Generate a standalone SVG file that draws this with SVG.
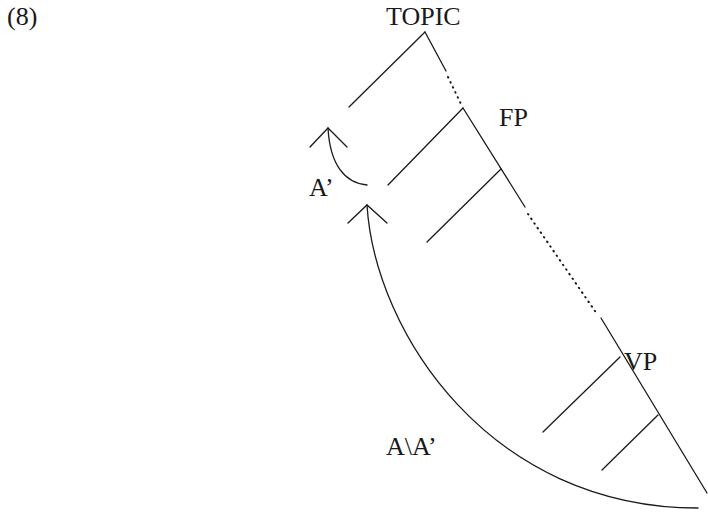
<svg xmlns="http://www.w3.org/2000/svg" width="708" height="513" viewBox="0 0 708 513">
<style>
.t{font-family:"Liberation Serif","Times New Roman",serif;font-size:26px;fill:#1a1a1a}
.l{stroke:#1a1a1a;stroke-width:1.3;fill:none;stroke-linecap:round}
.d{stroke:#1a1a1a;stroke-width:2;fill:none;stroke-dasharray:0.6 5;stroke-linecap:round}
</style>
<rect width="708" height="513" fill="#fff"/>
<text class="t" x="7" y="25">(8)</text>
<g id="topic"><text class="t" x="386" y="25">TOPIC</text></g>
<g id="fp"><text class="t" x="499" y="126">FP</text></g>
<g id="vp"><text class="t" x="624" y="370">VP</text></g>
<g id="a1"><text class="t" x="309" y="196">A’</text></g>
<g id="a2"><text class="t" x="386" y="455">A\A’</text></g>
<g id="connectors">
<line class="l" x1="425" y1="32" x2="349" y2="107"/>
<line class="l" x1="425" y1="32" x2="446" y2="71"/>
<line class="d" x1="448" y1="77" x2="461" y2="104"/>
<line class="l" x1="463" y1="108" x2="388" y2="185"/>
<line class="l" x1="463" y1="108" x2="525" y2="207"/>
<line class="l" x1="501" y1="169" x2="427" y2="242"/>
<line class="d" x1="528" y1="214" x2="597" y2="314"/>
<line class="l" x1="601" y1="318" x2="707" y2="493"/>
<line class="l" x1="620" y1="357" x2="543" y2="432"/>
<line class="l" x1="658" y1="415" x2="602" y2="470"/>
<path class="l" d="M310,147 L328,128 L347,147"/>
<path class="l" d="M328,128 C330,165 345,183 367,185"/>
<path class="l" d="M348,223 L367,205 L387,223"/>
<path class="l" d="M367,205 C375,334 491,508 698,508"/>
</g>
</svg>
